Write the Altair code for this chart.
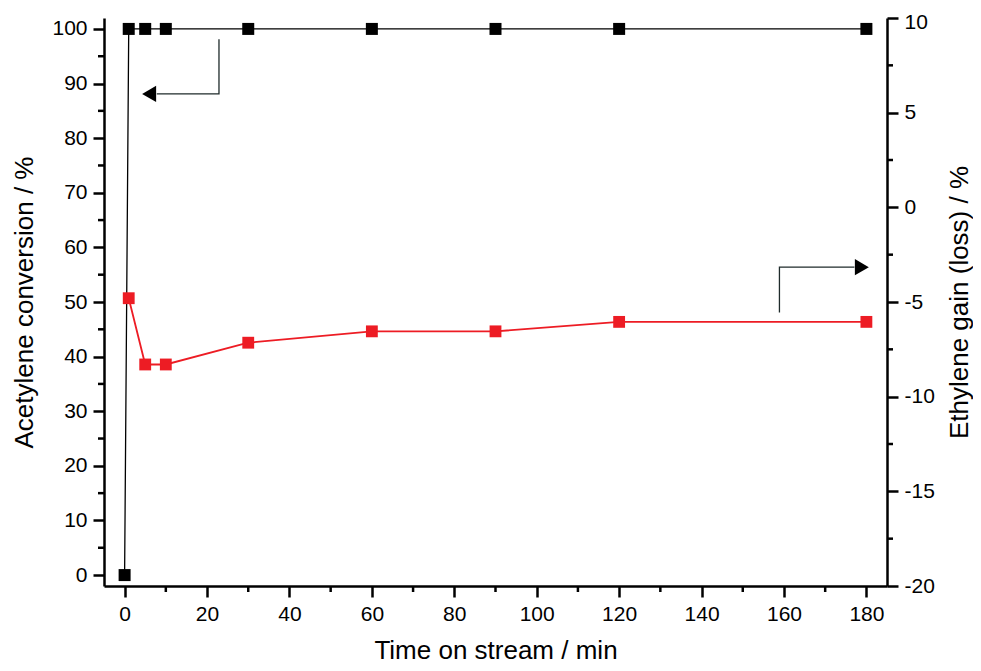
import altair as alt
import pandas as pd

# ---- data ----
time_black = [0, 1, 5, 10, 30, 60, 90, 120, 180]
conversion = [0, 100, 100, 100, 100, 100, 100, 100, 100]

time_red = [1, 5, 10, 30, 60, 90, 120, 180]
ethylene = [-4.8, -8.3, -8.3, -7.15, -6.55, -6.55, -6.05, -6.05]

x_major = [0, 20, 40, 60, 80, 100, 120, 140, 160, 180]
x_minor = [10, 30, 50, 70, 90, 110, 130, 150, 170]
left_major = [0, 10, 20, 30, 40, 50, 60, 70, 80, 90, 100]
left_minor = [5, 15, 25, 35, 45, 55, 65, 75, 85, 95]
right_major = [-20, -15, -10, -5, 0, 5, 10]
right_minor = [-17.5, -12.5, -7.5, -2.5, 2.5, 7.5]

# annotation arrows (data coordinates)
left_arrow_x = [22.9, 22.9, 7.8]
left_arrow_y = [98.1, 88.1, 88.1]
left_head = [(5.95, 88.1)]
right_arrow_x = [158.9, 158.9, 177.1]
right_arrow_y = [-5.55, -3.16, -3.16]
right_head = [(178.9, -3.16)]

W, H = 783, 568
FONT = "Liberation Sans"
RED = "#ED1C24"
ARROW = "#1f2b2b"

x_dom = [-5, 185]
l_dom = [-2, 102]
r_dom = [-20, 10]

fix = "replace(datum.label, '\u2212', '-')"

df_black = pd.DataFrame({"t": time_black, "v": conversion})
df_red = pd.DataFrame({"t": time_red, "v": ethylene})

xs = alt.Scale(domain=x_dom, nice=False, zero=False)
ls = alt.Scale(domain=l_dom, nice=False, zero=False)
rs = alt.Scale(domain=r_dom, nice=False, zero=False)

x_axis = alt.Axis(values=x_major, title="Time on stream / min", grid=False,
                  titlePadding=13)
l_axis = alt.Axis(values=left_major, title="Acetylene conversion / %", grid=False,
                  orient="left", labelExpr=fix, titlePadding=14)
r_axis = alt.Axis(values=right_major, title="Ethylene gain (loss) / %", grid=False,
                  orient="right", labelExpr=fix, titleAngle=270, titleBaseline="top",
                  titlePadding=12,
                  labelOffset={"condition": {"test": "datum.value == 10", "value": 4},
                               "value": 0})

X = alt.X("t:Q", scale=xs, axis=x_axis)
YL = alt.Y("v:Q", scale=ls, axis=l_axis)
YR = alt.Y("v:Q", scale=rs, axis=r_axis)

# ---- left (black) group ----
black_line = alt.Chart(df_black).mark_line(color="black", strokeWidth=1.3).encode(x=X, y=YL)
black_pts = alt.Chart(df_black).mark_square(color="black", size=144, opacity=1).encode(x=X, y=YL)

lminor = alt.Chart(pd.DataFrame({"v": left_minor})).mark_rule(
    color="black", strokeWidth=2.5).encode(y=YL, x=alt.value(0), x2=alt.value(-6))
xminor = alt.Chart(pd.DataFrame({"t": x_minor})).mark_rule(
    color="black", strokeWidth=2.5).encode(x=X, y=alt.value(H), y2=alt.value(H + 6))

larrow = alt.Chart(pd.DataFrame({"t": left_arrow_x, "v": left_arrow_y,
                                 "o": list(range(len(left_arrow_x)))})).mark_line(
    color=ARROW, strokeWidth=1.3).encode(x=X, y=YL, order="o:Q")
lhead = alt.Chart(pd.DataFrame(left_head, columns=["t", "v"])).mark_point(
    shape="triangle-left", filled=True, color="black", size=260, opacity=1).encode(x=X, y=YL)

left = alt.layer(black_line, black_pts, lminor, xminor, larrow, lhead)

# ---- right (red) group ----
red_line = alt.Chart(df_red).mark_line(color=RED, strokeWidth=1.8).encode(x=X, y=YR)
red_pts = alt.Chart(df_red).mark_square(color=RED, size=140, opacity=1).encode(x=X, y=YR)
rminor = alt.Chart(pd.DataFrame({"v": right_minor})).mark_rule(
    color="black", strokeWidth=2.5).encode(y=YR, x=alt.value(W), x2=alt.value(W + 6))
rarrow = alt.Chart(pd.DataFrame({"t": right_arrow_x, "v": right_arrow_y,
                                 "o": list(range(len(right_arrow_x)))})).mark_line(
    color=ARROW, strokeWidth=1.3).encode(x=X, y=YR, order="o:Q")
rhead = alt.Chart(pd.DataFrame(right_head, columns=["t", "v"])).mark_point(
    shape="triangle-right", filled=True, color="black", size=260, opacity=1).encode(x=X, y=YR)

right = alt.layer(red_line, red_pts, rminor, rarrow, rhead)

chart = alt.layer(left, right).resolve_scale(y="independent").properties(
    width=W, height=H,
    autosize=alt.AutoSizeParams(type="none"),
    padding={"left": 96, "top": 10, "right": 86, "bottom": 77},
    background="white",
).configure_view(strokeWidth=0).configure_axis(
    domainColor="black", domainWidth=2.5, tickColor="black", tickWidth=2.5,
    tickSize=11, labelFont=FONT, labelFontSize=21, labelColor="black", labelPadding=6,
    titleFont=FONT, titleFontSize=26, titleFontWeight="normal", titleColor="black",
)

chart.save("out.html", embed_options={"renderer": "svg", "actions": False})
